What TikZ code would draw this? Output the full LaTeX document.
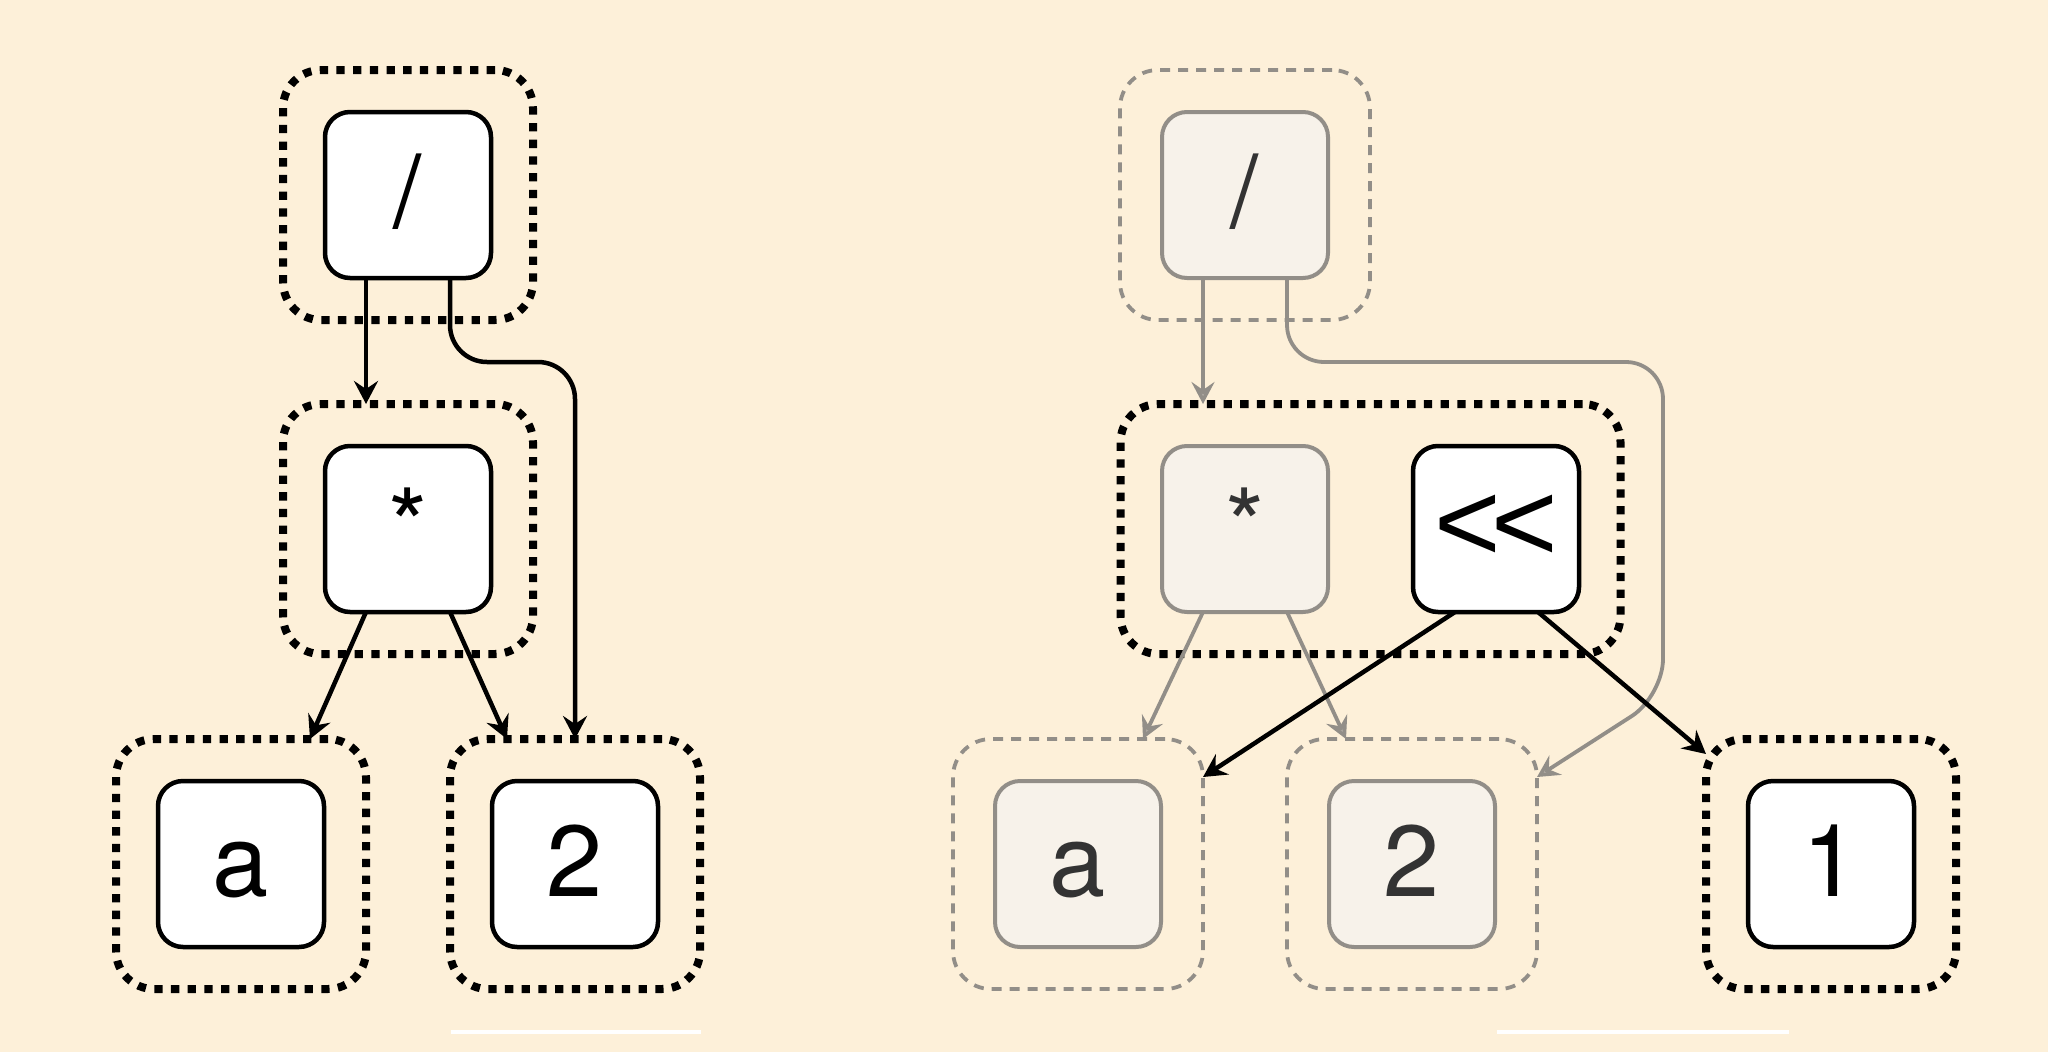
\documentclass[tikz,border=0pt]{standalone}
\usepackage{fontspec}
\setmainfont{TeX Gyre Heros}
\newfontfamily\lessfont{Liberation Sans}
\usetikzlibrary{arrows.meta,calc}
\definecolor{bgc}{HTML}{FDF0D9}
\definecolor{greyc}{HTML}{928E88}
\definecolor{greyfill}{HTML}{B0AAA3}
\definecolor{fadefill}{HTML}{F7F2EA}
\definecolor{fadetext}{HTML}{333333}
\begin{document}
\begin{tikzpicture}[x=1pt,y=-1pt,
  box/.style={draw=black,line width=4.5pt,fill=white,rounded corners=25pt,
    minimum width=166pt,minimum height=166pt,inner sep=0pt,outer sep=0pt,
    text height=70pt,text depth=6pt,font=\fontsize{101}{101}\selectfont},
  fadebox/.style={box,draw=greyc,line width=4pt,fill=fadefill,text=fadetext},
  grp/.style={draw=black,line width=8pt,dash pattern=on 8.3pt off 8.4pt,
    rounded corners=38pt,minimum width=250pt,minimum height=250pt,
    inner sep=0pt,outer sep=0pt},
  fadegrp/.style={draw=greyc,line width=3.8pt,dash pattern=on 10pt off 8pt,
    rounded corners=38pt,minimum width=250pt,minimum height=250pt,
    inner sep=0pt,outer sep=0pt},
  edgeb/.style={draw=black,line width=4.5pt,-{Stealth[length=23pt,width=24pt,inset=8pt]}},
  edgeg/.style={draw=greyc,line width=3.8pt,-{Stealth[length=22pt,width=23pt,inset=8pt,fill=greyfill]}},
  whiteline/.style={draw=white,line width=4pt}
]
\fill[bgc] (0,0) rectangle (2048,1052);
\useasboundingbox (0,0) rectangle (2048,1052);

% left tree groups
\node[grp] (gSlashL) at (408,195) {};
\node[grp] (gStarL) at (408,529) {};
\node[grp] (gAL) at (241,864) {};
\node[grp] (gTwoL) at (575,864) {};
% left tree boxes
\node[box] (slashL) at (408,195) {/};
\node[box] (starL) at (408,529) {*};
\node[box] (aL) at (241,864) {a};
\node[box] (twoL) at (575,864) {2};

% right tree groups
\node[fadegrp] (gSlashR) at (1245,195) {};
\node[grp,minimum width=500pt] (gMidR) at (1370.5,529) {};
\node[fadegrp] (gAR) at (1078,864) {};
\node[fadegrp] (gTwoR) at (1412,864) {};
\node[grp] (gOneR) at (1831,864) {};
% right tree boxes
\node[fadebox] (slashR) at (1245,195) {/};
\node[fadebox] (starR) at (1245,529) {*};
\node[box,font=\lessfont\fontsize{114}{114}\selectfont] (shlR) at (1496,529) {<\kern-10pt<};
\node[fadebox] (aR) at (1078,864) {a};
\node[fadebox] (twoR) at (1412,864) {2};
\node[box] (oneR) at (1831,864) {1};

% left edges
\coordinate (jL) at (575,362);
\draw[edgeb] ([xshift=-42pt]slashL.south) -- ([xshift=-42pt]gStarL.north);
\draw[edgeb,rounded corners=37pt] ([xshift=42pt]slashL.south) |- (jL) -- (gTwoL.north);
\draw[edgeb] ([xshift=-42pt]starL.south) -- ([xshift=69pt]gAL.north);
\draw[edgeb] ([xshift=42pt]starL.south) -- ([xshift=-68pt]gTwoL.north);

% right edges
\coordinate (sR1) at ([xshift=-42pt]slashR.south);
\coordinate (jR1) at (1663,362);
\coordinate (jR2) at (1663,696);
\draw[edgeg] (sR1) -- (sR1 |- gMidR.north);
\draw[edgeg,rounded corners=37pt] ([xshift=42pt]slashR.south) |- (jR1) -- (jR2) -- ([yshift=-38pt]gTwoR.north east);
\draw[edgeg] ([xshift=-42pt]starR.south) -- ([xshift=65pt]gAR.north);
\draw[edgeg] ([xshift=42pt]starR.south) -- ([xshift=-66pt]gTwoR.north);
\draw[edgeb] ([xshift=-41pt]shlR.south) -- ([yshift=-38pt]gAR.north east);
\draw[edgeb] ([xshift=42pt]shlR.south) -- ([yshift=-15pt]gOneR.north west);

% white underlines
\coordinate (w1a) at (451,1032);
\coordinate (w1b) at (701,1032);
\coordinate (w2a) at (1497,1032);
\coordinate (w2b) at (1789,1032);
\draw[whiteline] (w1a) -- (w1b);
\draw[whiteline] (w2a) -- (w2b);
\end{tikzpicture}
\end{document}
